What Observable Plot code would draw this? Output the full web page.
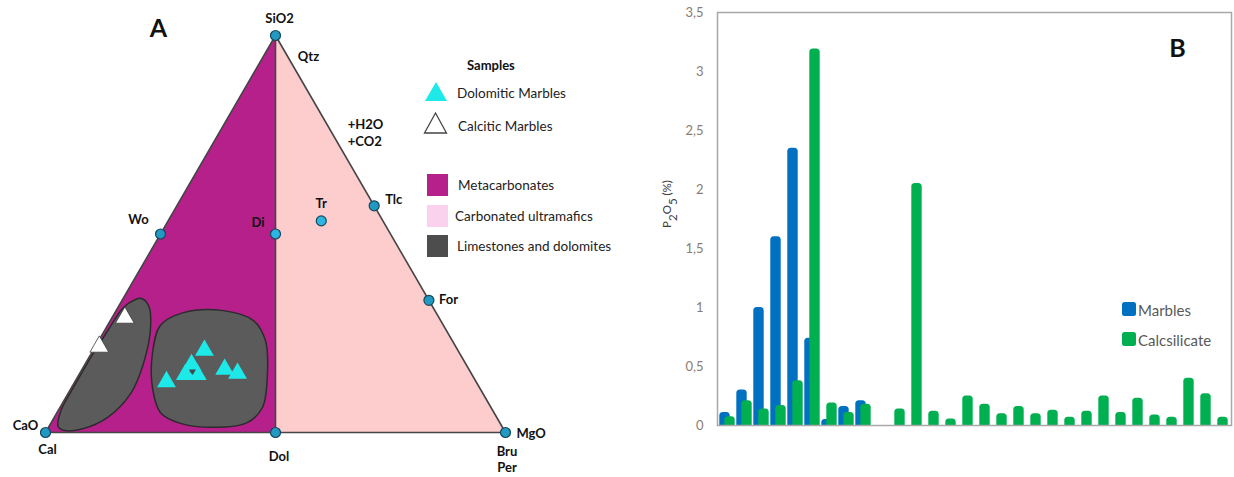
<!DOCTYPE html>
<html>
<head>
<meta charset="utf-8">
<script src="https://cdn.jsdelivr.net/npm/d3@7"></script>
<script src="https://cdn.jsdelivr.net/npm/@observablehq/plot@0.6"></script>
<style>
  html, body { margin: 0; padding: 0; background: #fff; }
  #fig { position: relative; width: 1234px; height: 477px; display: flex; font-family: Lato, "Open Sans", sans-serif; }
  #overlay { position: absolute; left: 0; top: 0; pointer-events: none; }
</style>
</head>
<body>
<div id="fig">
  <div id="panelA"></div>
  <div id="panelB"></div>
  <svg id="overlay" width="1234" height="477"></svg>
</div>
<script>
// ---------------- Panel A: CaO – MgO – SiO2 ternary (mol %) ----------------
// Reference phases (SiO2 %, MgO %; CaO is the remainder)
const phaseNames = ["SiO2", "Wo", "Di", "Tr", "Tlc", "For", "Cal", "Dol", "MgO"];
const phaseSiO2  = [100, 50, 50, 53.3, 57.1, 33.3, 0, 0, 0];
const phaseMgO   = [0, 0, 25, 33.3, 42.9, 66.7, 0, 50, 100];

// Compositional fields (SiO2 %, MgO %)
const metacarbonateField = [[0, 0], [100, 0], [0, 50]];
const ultramaficField    = [[0, 50], [100, 0], [0, 100]];
const limestoneField = [[33.8, 3.8], [32.0, 6.4], [26.5, 9.6], [17.4, 12.6], [9.8, 13.6], [3.8, 11.6],
  [1.0, 7.8], [0.5, 3.9], [1.5, 2.0], [5.5, 0.6], [12.3, 0.4], [18.9, 0.4], [25.7, 0.7], [31.5, 1.2], [33.5, 2.8]];
const dolomiteField = [[27.0, 11.5], [30.2, 14.9], [30.7, 23.3], [28.2, 31.1], [23.2, 36.2], [14.9, 40.8],
  [6.3, 44.0], [2.5, 42.6], [1.3, 35.9], [2.3, 28.2], [5.0, 22.5], [11.3, 17.6], [19.9, 13.3]];

// Samples
const dolomiticSiO2 = [12.8, 20.7, 14.6, 14.6, 17.1, 15.9, 14.9];
const dolomiticMgO  = [19.9, 24.2, 23.1, 25.7, 23.2, 31.0, 34.3];
const calciticSiO2  = [28.9, 21.6];
const calciticMgO   = [2.8, 0.9];
const innerMarkSiO2 = [15.4];
const innerMarkMgO  = [24.3];

// Labels and the compositions they annotate
const labelText = ["SiO2", "Qtz", "+H2O\n+CO2", "Tlc", "Tr", "Di", "Wo", "For", "CaO", "Cal", "Dol", "MgO", "Bru\nPer"];
const labelSiO2 = [100, 100, 76, 57.1, 53.3, 50, 50, 33.3, 0, 0, 0, 0, 0];
const labelMgO  = [0, 0, 24, 42.9, 33.3, 25, 0, 66.7, 0, 0, 50, 100, 100];

// Legend entries
const sampleTypes = ["Dolomitic Marbles", "Calcitic Marbles"];
const fieldNames  = ["Metacarbonates", "Carbonated ultramafics", "Limestones and dolomites"];

// ---------------- Panel B: P2O5 (%) per sample ----------------
const samples = d3.range(1, 31);
const marbles = [0.11, 0.30, 1.00, 1.60, 2.35, 0.74, 0.05, 0.16, 0.21,
  null, null, null, null, null, null, null, null, null, null, null, null, null, null, null, null, null, null, null, null, null];
const calcsilicate = [0.075, 0.21, 0.14, 0.17, 0.38, 3.19, 0.19, 0.11, 0.18, null,
  0.14, 2.05, 0.12, 0.055, 0.25, 0.18, 0.10, 0.16, 0.10, 0.13,
  0.07, 0.12, 0.25, 0.11, 0.23, 0.09, 0.07, 0.40, 0.27, 0.07];
const yTicks = [0, 0.5, 1, 1.5, 2, 2.5, 3, 3.5];
const seriesNames = ["Marbles", "Calcsilicate"];

// ---------------------------------------------------------------
const FONT = "Lato, 'Open Sans', sans-serif";
const H = Math.sqrt(3) / 2;
const colors = {
  meta: "#b5208b", ultra: "#fdcdcd", ultraKey: "#fbd2ee", field: "#5b5b5b", fieldEdge: "#2b2b2b",
  edge: "#454545", dolomitic: "#1de9e9", phase: "#2199c1", phaseLight: "#2cb4e2",
  blue: "#0070c0", green: "#00b050"
};

// ternary (SiO2 %, MgO %) -> cartesian
const tern = (si, mg) => ({x: (mg + si / 2) / 100, y: (si / 100) * H});
const poly = pts => pts.map(([si, mg]) => tern(si, mg));
const pts = (S, M, extra = {}) => S.map((s, i) => ({...tern(s, M[i]), ...extra, i}));

const phases = phaseNames.map((n, i) => ({name: n, ...tern(phaseSiO2[i], phaseMgO[i])}));
const byName = Object.fromEntries(phases.map(p => [p.name, p]));
const outline = ["Cal", "SiO2", "MgO", "Cal"].map(n => byName[n]);
const divider = ["Dol", "SiO2"].map(n => byName[n]);

// label offsets (px), anchoring and line height
const labelStyle = {
  "SiO2": [4, -18, "middle", 1.35], "Qtz": [33, 20, "middle", 1.35], "+H2O\n+CO2": [17, 1, "start", 1.35],
  "Tlc": [11, -7, "start", 1.35], "Tr": [0, -19, "middle", 1.35], "Di": [-17.5, -12.5, "middle", 1.35],
  "Wo": [-22, -16, "middle", 1.35], "For": [10, -2, "start", 1.35], "CaO": [-20, -8, "middle", 1.35],
  "Cal": [2, 16, "middle", 1.35], "Dol": [3.5, 22.5, "middle", 1.35], "MgO": [11, 0, "start", 1.35],
  "Bru\nPer": [1.5, 26.5, "middle", 1.24]
};
const labelMarks = labelText.map((t, i) => {
  const [dx, dy, anchor, lh] = labelStyle[t];
  return Plot.text([{...tern(labelSiO2[i], labelMgO[i]), t}], {
    x: "x", y: "y", text: "t", dx, dy, textAnchor: anchor, lineAnchor: "middle",
    lineHeight: lh, fontSize: 13, fontWeight: "bold", fill: "#111", fontFamily: FONT
  });
});

const panelA = Plot.plot({
  width: 640, height: 477,
  margin: 0,
  x: {domain: [0, 1], range: [45, 505], axis: null},
  y: {domain: [0, H], range: [432, 35], axis: null},
  style: {fontFamily: FONT, background: "transparent"},
  marks: [
    Plot.line(poly(ultramaficField), {x: "x", y: "y", fill: colors.ultra, stroke: "none"}),
    Plot.line(poly(metacarbonateField), {x: "x", y: "y", fill: colors.meta, stroke: "none"}),
    Plot.line(poly(limestoneField), {x: "x", y: "y", curve: "catmull-rom-closed", fill: colors.field, stroke: colors.fieldEdge, strokeWidth: 1.5}),
    Plot.line(poly(dolomiteField), {x: "x", y: "y", curve: "catmull-rom-closed", fill: colors.field, stroke: colors.fieldEdge, strokeWidth: 1.5}),
    Plot.line(outline, {x: "x", y: "y", stroke: colors.edge, strokeWidth: 1.6}),
    Plot.line(divider, {x: "x", y: "y", stroke: colors.edge, strokeWidth: 1.6}),
    Plot.dot(phases, {x: "x", y: "y", r: 5, fill: d => (d.name === "Di" || d.name === "Tr") ? "light" : "dark",
      stroke: "#17475a", strokeWidth: 1.2}),
    Plot.dot(pts(dolomiticSiO2, dolomiticMgO), {x: "x", y: "y", symbol: "triangle", r: 7, fill: colors.dolomitic, stroke: "none"}),
    Plot.dot(pts(innerMarkSiO2, innerMarkMgO), {x: "x", y: "y", symbol: "triangle", rotate: 180, r: 2.4, fill: "#3d4a4a", stroke: "none"}),
    Plot.dot(pts(calciticSiO2, calciticMgO), {x: "x", y: "y", symbol: "triangle", r: 7, fill: "#fff", stroke: "#3a3a3a", strokeWidth: 0.8}),
    ...labelMarks
  ],
  color: {domain: ["dark", "light"], range: [colors.phase, colors.phaseLight]}
});
document.getElementById("panelA").appendChild(panelA);

// ---------------- Panel B ----------------
const rowsM = samples.map((s, i) => ({sample: s, value: marbles[i]})).filter(d => d.value != null);
const rowsC = samples.map((s, i) => ({sample: s, value: calcsilicate[i]})).filter(d => d.value != null);
const barStyle = {rx: 3.5, insetBottom: -5, clip: true};

const panelB = Plot.plot({
  width: 594, height: 477,
  marginLeft: 77, marginRight: 3, marginTop: 12, marginBottom: 52,
  style: {fontFamily: FONT, fontSize: "13px", color: "#8a7c70", background: "transparent"},
  x: {type: "band", domain: samples, padding: 0, axis: null},
  y: {domain: [0, 3.5], ticks: yTicks, tickFormat: d => String(d).replace(".", ","), tickSize: 0, tickPadding: 14, label: null},
  marks: [
    Plot.barY(rowsM, {x: "sample", y: "value", fill: colors.blue, insetLeft: 0.3, insetRight: 6.3, ...barStyle}),
    Plot.barY(rowsC, {x: "sample", y: "value", fill: colors.green, insetLeft: 5.3, insetRight: 1.3, ...barStyle}),
    Plot.frame({stroke: "#a8a8a8", strokeWidth: 1.5})
  ]
});
document.getElementById("panelB").appendChild(panelB);

// ---------------- Annotations: panel letters, legends, axis title ----------------
const ov = d3.select("#overlay").style("font-family", FONT);

ov.append("text").attr("x", 158.5).attr("y", 27).attr("text-anchor", "middle").attr("dominant-baseline", "central")
  .attr("font-size", 25).attr("font-weight", "bold").attr("fill", "#111").text("A");
ov.append("text").attr("x", 1177.5).attr("y", 47).attr("text-anchor", "middle").attr("dominant-baseline", "central")
  .attr("font-size", 25).attr("font-weight", "bold").attr("fill", "#111").text("B");

// Panel A legend
ov.append("text").attr("x", 467).attr("y", 64.5).attr("dominant-baseline", "central")
  .attr("font-size", 13).attr("font-weight", "bold").attr("fill", "#111").text("Samples");
const tri = (cx, top, w, h) => `M${cx},${top}L${cx + w / 2},${top + h}L${cx - w / 2},${top + h}Z`;
ov.append("path").attr("d", tri(436, 82, 22, 19)).attr("fill", colors.dolomitic);
ov.append("path").attr("d", tri(435.5, 113, 22, 20)).attr("fill", "#fff").attr("stroke", "#444").attr("stroke-width", 1.3);
const sampleKeyY = [92.5, 125.5];
const sampleKeyX = [457, 458];
sampleTypes.forEach((t, i) => {
  ov.append("text").attr("x", sampleKeyX[i]).attr("y", sampleKeyY[i]).attr("dominant-baseline", "central")
    .attr("font-size", 13.5).attr("fill", "#222").text(t);
});
const fieldKeyColors = [colors.meta, colors.ultraKey, "#4d4d4d"];
const fieldKeyTop = [174, 205, 235];
const fieldKeyTextX = [458, 455, 457];
fieldNames.forEach((t, i) => {
  ov.append("rect").attr("x", 427).attr("y", fieldKeyTop[i]).attr("width", 21).attr("height", 22).attr("fill", fieldKeyColors[i]);
  ov.append("text").attr("x", fieldKeyTextX[i]).attr("y", fieldKeyTop[i] + 11).attr("dominant-baseline", "central")
    .attr("font-size", 13.5).attr("fill", "#222").text(t);
});

// Panel B legend
const seriesColors = [colors.blue, colors.green];
seriesNames.forEach((t, i) => {
  const y = 302 + i * 30;
  ov.append("rect").attr("x", 1122).attr("y", y).attr("width", 14).attr("height", 14).attr("rx", 2.5).attr("fill", seriesColors[i]);
  ov.append("text").attr("x", 1138).attr("y", y + 7.5).attr("dominant-baseline", "central")
    .attr("font-size", 15).attr("fill", "#595959").text(t);
});

// Panel B y-axis title: P2O5 (%)
const yt = ov.append("text").attr("transform", "translate(666,204) rotate(-90)").attr("text-anchor", "middle")
  .attr("dominant-baseline", "central").attr("font-size", 11.5).attr("fill", "#404040");
yt.append("tspan").text("P");
yt.append("tspan").attr("baseline-shift", "sub").text("2");
yt.append("tspan").text("O");
yt.append("tspan").attr("baseline-shift", "sub").text("5");
yt.append("tspan").text(" (%)");
</script>
</body>
</html>
